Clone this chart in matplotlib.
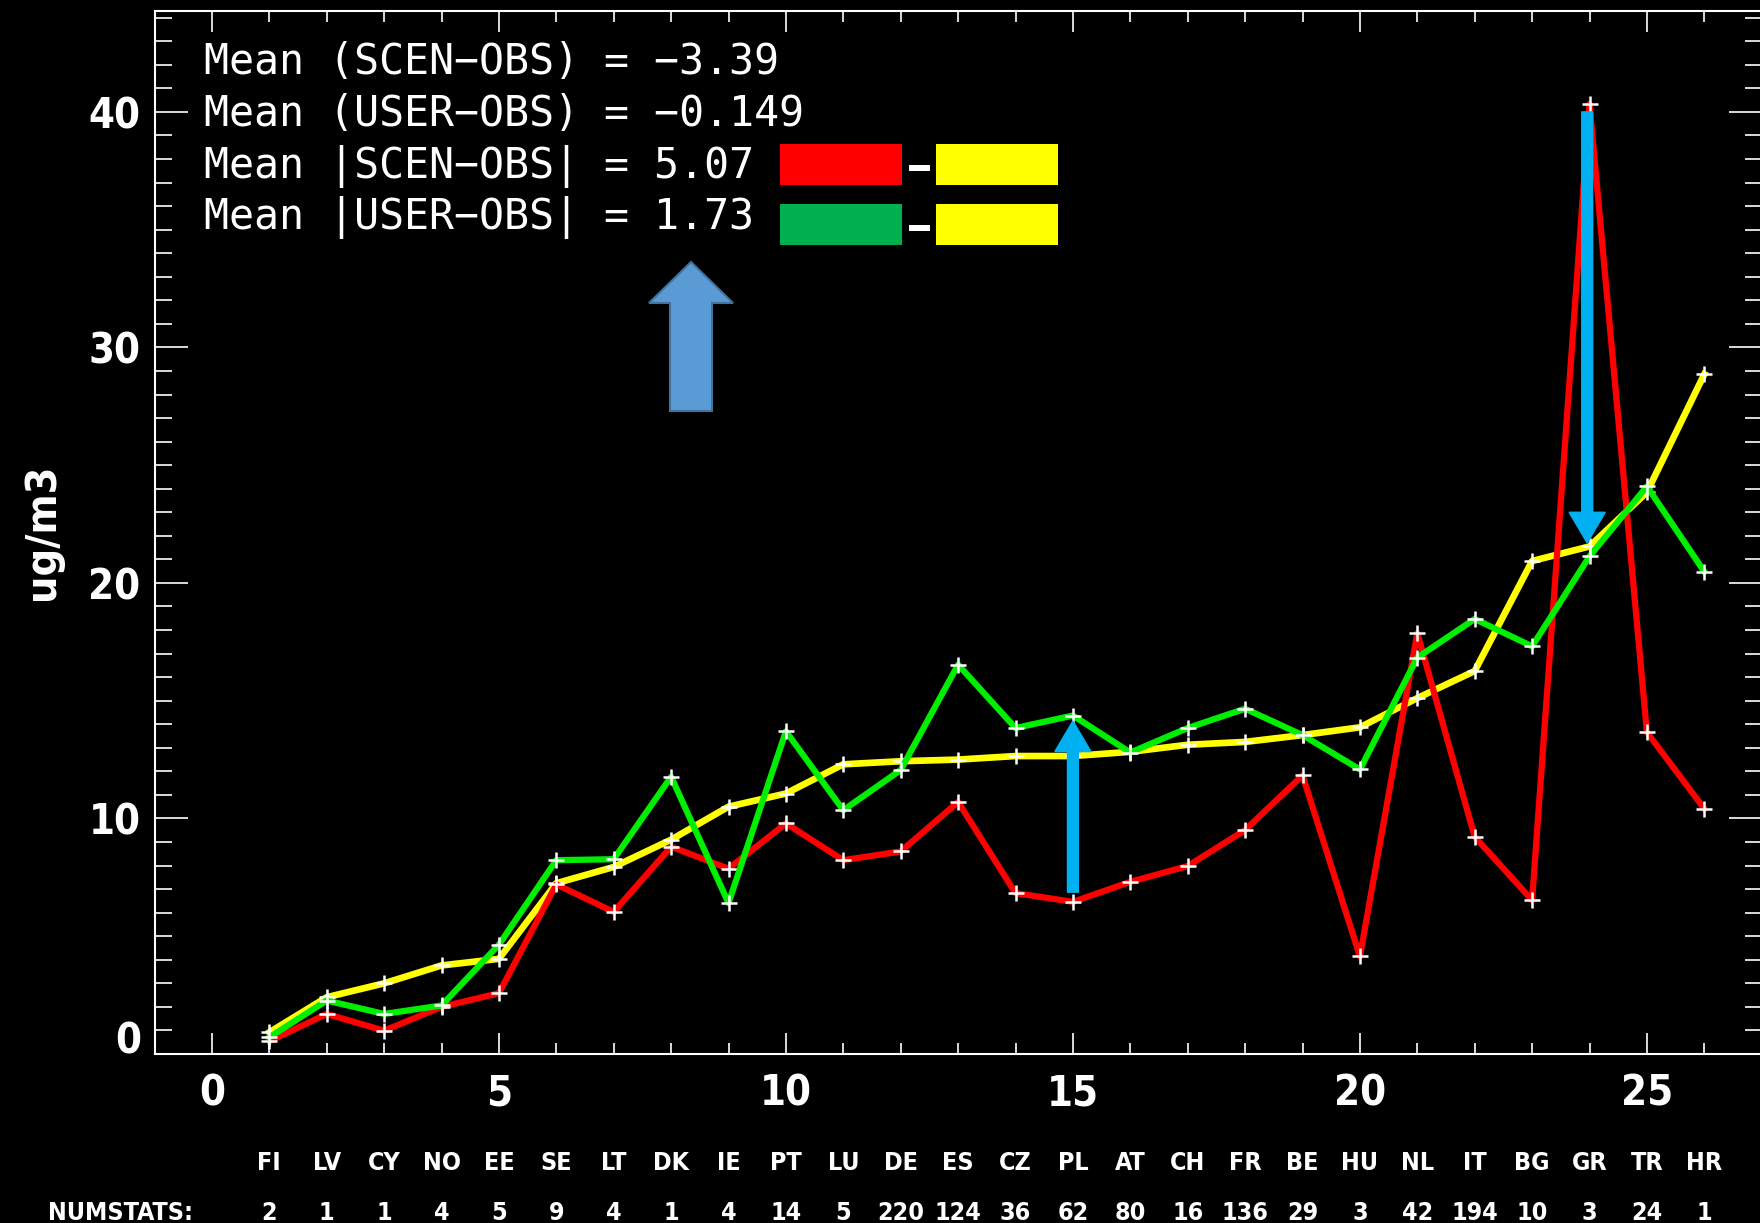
import numpy as np
import matplotlib.pyplot as plt
from matplotlib.patches import Rectangle, Polygon
from matplotlib.ticker import MultipleLocator, FuncFormatter

# Countries along the x axis (index 1..26) and number of stations
countries = ["FI", "LV", "CY", "NO", "EE", "SE", "LT", "DK", "IE", "PT", "LU", "DE", "ES",
             "CZ", "PL", "AT", "CH", "FR", "BE", "HU", "NL", "IT", "BG", "GR", "TR", "HR"]
numstats = [2, 1, 1, 4, 5, 9, 4, 1, 4, 14, 5, 220, 124, 36, 62, 80, 16, 136, 29, 3, 42,
            194, 10, 3, 24, 1]

# Mean concentrations (ug/m3) per country
obs = [0.92, 2.41, 3.0, 3.76, 4.04, 7.25, 7.94, 9.1, 10.5, 11.06, 12.3, 12.43, 12.5,
       12.65, 12.65, 12.83, 13.13, 13.25, 13.54, 13.87, 15.11, 16.26, 20.93, 21.55, 23.85, 28.86]
scen = [0.54, 1.70, 0.99, 2.0, 2.58, 7.2, 6.03, 8.8, 7.87, 9.79, 8.23, 8.6, 10.7,
        6.83, 6.46, 7.31, 7.98, 9.51, 11.83, 4.14, 17.87, 9.22, 6.53, 40.34, 13.66, 10.41]
user = [0.71, 2.27, 1.70, 2.06, 4.64, 8.23, 8.27, 11.77, 6.41, 13.7, 10.35, 12.06, 16.53,
        13.84, 14.37, 12.8, 13.84, 14.66, 13.54, 12.08, 16.83, 18.47, 17.31, 21.13, 24.1, 20.48]

# Summary statistics shown in the top left corner
stat_labels = ["Mean (SCEN\u2212OBS) = \u22123.39",
               "Mean (USER\u2212OBS) = \u22120.149",
               "Mean |SCEN\u2212OBS| = 5.07",
               "Mean |USER\u2212OBS| = 1.73"]

# Highlight arrows (x, start y, end y)
arrows = [(15, 6.87, 14.14), (23.96, 40.0, 21.7)]

x = np.arange(1, len(countries) + 1)

W, H = 1760, 1223
fig = plt.figure(figsize=(W / 100, H / 100), dpi=100, facecolor="black")


def px(xp, yp):
    # pixel position (from top-left) to figure fraction
    return xp / W, 1 - yp / H


ax = fig.add_axes([154.5 / W, 1 - 1054 / H, (1761.7 - 154.5) / W, (1054 - 10.6) / H])
ax.set_facecolor("black")
ax.set_xlim(-1, 27)
ax.set_ylim(0, 44.3)

mk = dict(marker="+", markersize=11, markeredgecolor="white", markeredgewidth=1.8)
ax.plot(x, obs, color="#ffff00", lw=4.8, zorder=3, **mk)
ax.plot(x, scen, color="#ff0000", lw=4.5, zorder=4, **mk)
ax.plot(x, user, color="#00ee00", lw=4.5, zorder=5, **mk)

for xa, y0, y1 in arrows:
    ax.arrow(xa, y0, 0, y1 - y0, width=0.19, head_width=0.63, head_length=1.3,
             length_includes_head=True, color="#00b0f0", zorder=6)

for s in ax.spines.values():
    s.set_color("white")
    s.set_linewidth(1.5)

ax.xaxis.set_major_locator(MultipleLocator(5))
ax.xaxis.set_minor_locator(MultipleLocator(1))
ax.yaxis.set_major_locator(MultipleLocator(10))
ax.yaxis.set_minor_locator(MultipleLocator(1))
# zero on the y axis is drawn separately, a bit higher, as in the original
ax.yaxis.set_major_formatter(FuncFormatter(lambda v, p: "" if v == 0 else "%d" % v))
ax.tick_params(axis="both", which="both", direction="in", colors="white",
               top=True, right=True, width=1.2)
ax.tick_params(axis="x", which="major", length=15, pad=13)
ax.tick_params(axis="x", which="minor", length=8)
ax.tick_params(axis="y", which="major", length=24, pad=10)
ax.tick_params(axis="y", which="minor", length=12)

tick_font = dict(family="DejaVu Sans", stretch="condensed", weight="bold", size=30)
for lab in ax.get_xticklabels() + ax.get_yticklabels():
    lab.set(**tick_font)
    lab.set_color("white")
fig.text(*px(141, 1041), "0", ha="right", va="center", color="white", **tick_font)

fig.text(*px(42, 532), "ug/m3", rotation=90, ha="center", va="center", color="white",
         family="DejaVu Sans", stretch="condensed", weight="bold", size=31)

# country names and station counts under the axis
lab_font = dict(family="DejaVu Sans", stretch="condensed", weight="bold", size=18)
for xi, c, n in zip(x, countries, numstats):
    xf = ax.transData.transform((xi, 0))[0] / W
    fig.text(xf, 1 - 1163 / H, c, ha="center", va="center", color="white", **lab_font)
    fig.text(xf, 1 - 1213 / H, str(n), ha="center", va="center", color="white", **lab_font)
fig.text(*px(120, 1213), "NUMSTATS:", ha="center", va="center", color="white", **lab_font)

# summary text
for i, t in enumerate(stat_labels):
    fig.text(*px(204, 62 + 52 * i), t, ha="left", va="center", color="white",
             family="DejaVu Sans Mono", size=30)

# colour key boxes
key_rows = [("#ff0000", 144), ("#00b050", 204)]
for col, top in key_rows:
    for x0, c in [(780, col), (936, "#ffff00")]:
        fig.patches.append(Rectangle(px(x0, top + 41), 122 / W, 41 / H,
                                     transform=fig.transFigure, facecolor=c,
                                     edgecolor="none"))
    fig.patches.append(Rectangle(px(909, top + 27), 21 / W, 6 / H,
                                 transform=fig.transFigure, facecolor="white",
                                 edgecolor="none"))

# block arrow
arrow_pts = [(691, 262), (733, 303), (712, 303), (712, 411), (670, 411), (670, 303), (649, 303)]
fig.patches.append(Polygon([px(a, b) for a, b in arrow_pts], closed=True,
                           transform=fig.transFigure, facecolor="#5b9bd5",
                           edgecolor="#41719c", linewidth=1.5))

fig.savefig("out.png", dpi=100, facecolor="black")
